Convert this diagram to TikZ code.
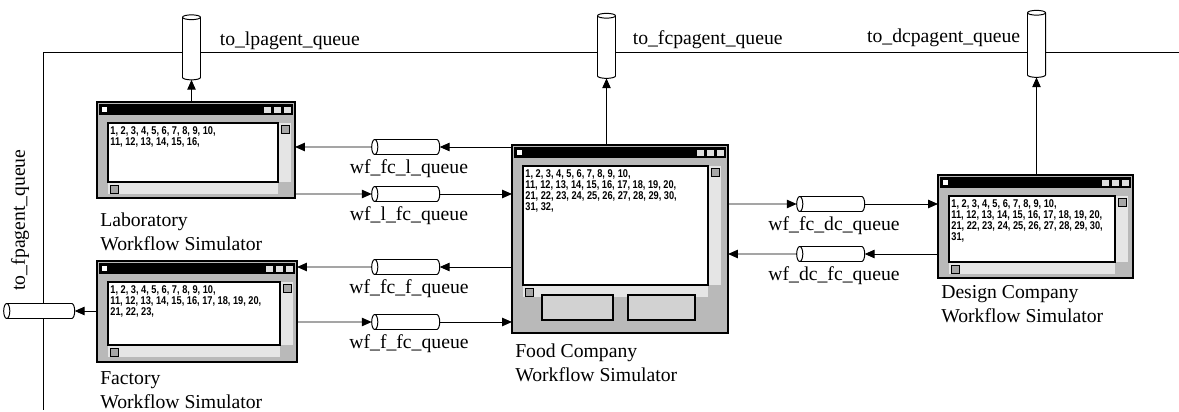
\documentclass[tikz,border=0pt]{standalone}
\usepackage{fontspec}
\setmainfont{Liberation Serif}
\newfontfamily\numfont{Liberation Sans}[FakeStretch=0.82]
\usetikzlibrary{shapes.geometric, arrows.meta, positioning, calc}

% client area of a simulator window: #1 window, #2 right margin, #3 bottom margin, #4 output lines
\newcommand{\simscreen}[4]{%
  \fill ([shift={(2,2)}]#1.north west) rectangle ([shift={(-2,13)}]#1.north east);
  \fill[white] ([shift={(5,5)}]#1.north west) rectangle ++(5,5);
  \foreach \k in {1,2,3}
    \draw[fill=gray!25, line width=0.4pt] ([shift={(-2-\k*10,4)}]#1.north east) rectangle ++(8,7);
  \coordinate (#1tl) at ([shift={(11,21)}]#1.north west);
  \coordinate (#1br) at ([shift={(-#2,-#3)}]#1.south east);
  \fill[gray!20] ([shift={(1,0)}]#1tl -| #1br) rectangle ([shift={(13,0)}]#1br);
  \fill[gray!20] ([shift={(0,1)}]#1tl |- #1br) rectangle ([shift={(0,12)}]#1br);
  \draw[fill=gray!70, line width=0.4pt] ([shift={(3,2)}]#1tl -| #1br) rectangle ++(8,8);
  \draw[fill=gray!70, line width=0.4pt] ([shift={(2,3)}]#1tl |- #1br) rectangle ++(8,8);
  \draw[fill=white, line width=0.8pt] (#1tl) rectangle (#1br);
  \node[numtext] at ([shift={(2,3)}]#1tl) {#4};
}

\begin{document}
\begin{tikzpicture}[x=0.025cm, y=-0.025cm, line width=0.7pt,
    >={Triangle[length=7pt, width=6pt]},
    simwin/.style={draw, line width=1.2pt, fill=gray!55, rectangle, inner sep=0pt, outer sep=0pt},
    queue/.style={draw, fill=white, cylinder, shape border rotate=180, aspect=0.45,
      inner xsep=0pt, inner ysep=0.17cm, outer sep=0pt, minimum width=0.375cm, minimum height=1.7cm},
    vqueue/.style={queue, shape border rotate=90, aspect=0.3, inner xsep=0.2cm, inner ysep=0pt,
      minimum width=0.45cm, minimum height=1.625cm},
    qlabel/.style={font=\fontsize{14}{17}\selectfont, inner sep=2pt},
    winlabel/.style={qlabel, align=left},
    numtext/.style={font=\numfont\bfseries\fontsize{8}{6.6}\selectfont, align=left, anchor=north west, inner sep=0pt}
  ]
  \useasboundingbox (0,0) rectangle (1179,412);

  % --- agent bus ---
  \coordinate (busE) at (1179,52);
  \coordinate (busNW) at (43,52);
  \coordinate (busS) at (43,410);
  \draw (busE) -- (busNW) -- (busS);

  % --- simulator windows ---
  \node[simwin, minimum width=4.95cm, minimum height=2.4cm] (lab) at (196,150) {};
  \node[simwin, minimum width=5cm, minimum height=2.525cm] (fac) at (197,311.5) {};
  \node[simwin, minimum width=5.4cm, minimum height=4.7cm] (food) at (620,239) {};
  \node[simwin, minimum width=4.875cm, minimum height=2.575cm] (dc) at (1035.5,226.5) {};

  \simscreen{lab}{17}{16}{1, 2, 3, 4, 5, 6, 7, 8, 9, 10,\\11, 12, 13, 14, 15, 16,}
  \simscreen{fac}{17}{17}{1, 2, 3, 4, 5, 6, 7, 8, 9, 10,\\11, 12, 13, 14, 15, 16, 17, 18, 19, 20,\\21, 22, 23,}
  \simscreen{food}{20}{48}{1, 2, 3, 4, 5, 6, 7, 8, 9, 10,\\11, 12, 13, 14, 15, 16, 17, 18, 19, 20,\\21, 22, 23, 24, 25, 26, 27, 28, 29, 30,\\31, 32,}
  \simscreen{dc}{18}{16}{1, 2, 3, 4, 5, 6, 7, 8, 9, 10,\\11, 12, 13, 14, 15, 16, 17, 18, 19, 20,\\21, 22, 23, 24, 25, 26, 27, 28, 29, 30,\\31,}

  % buttons of the food company window
  \draw[fill=gray!35, line width=1.2pt] ([shift={(30,-38)}]food.south west) rectangle ++(71,25);
  \draw[fill=gray!35, line width=1.2pt] ([shift={(116,-38)}]food.south west) rectangle ++(67,25);

  \node[winlabel, below=0.3cm of lab.south west, anchor=north west] (lablbl) {Laboratory\\Workflow Simulator};
  \node[winlabel, below=0.15cm of fac.south west, anchor=north west] (faclbl) {Factory\\Workflow Simulator};
  \node[winlabel, below=0.2cm of food.south west, anchor=north west] (foodlbl) {Food Company\\Workflow Simulator};
  \node[winlabel, below=0.1cm of dc.south west, anchor=north west] (dclbl) {Design Company\\Workflow Simulator};

  % --- agent queues ---
  \node[vqueue] (lpq) at (191.5,50) {};
  \node[vqueue] (fcq) at (606.5,48.5) {};
  \node[vqueue, minimum height=1.675cm] (dcq) at (1036.5,46.5) {};
  \node[queue, minimum height=1.775cm] (fpq) at (42.5,311) {};

  \node[qlabel, right=0.4cm of lpq.north east] {to\_lpagent\_queue};
  \node[qlabel, right=0.35cm of fcq.north east] {to\_fcpagent\_queue};
  \node[qlabel, left=0.1cm of dcq.north west] {to\_dcpagent\_queue};
  \node[qlabel, rotate=90] at (20,220) {to\_fpagent\_queue};

  % --- workflow queues ---
  \node[queue] (fclq) at (409,147) {};
  \node[queue] (lfcq) at (409,194) {};
  \node[queue] (fcfq) at (409,267) {};
  \node[queue] (ffcq) at (409,322) {};
  \node[queue] (fcdcq) at (834,204) {};
  \node[queue] (dcfcq) at (834,254) {};

  \node[qlabel, below=1pt of fclq] {wf\_fc\_l\_queue};
  \node[qlabel, below=1pt of lfcq] {wf\_l\_fc\_queue};
  \node[qlabel, below=1pt of fcfq] {wf\_fc\_f\_queue};
  \node[qlabel, below=1pt of ffcq] {wf\_f\_fc\_queue};
  \node[qlabel, below=1pt of fcdcq] {wf\_fc\_dc\_queue};
  \node[qlabel, below=1pt of dcfcq] {wf\_dc\_fc\_queue};

  % --- connections ---
  \draw[->] (lab.north -| lpq) -- (lpq.south);
  \draw[->] (food.north -| fcq) -- (fcq.south);
  \draw[->] (dc.north -| dcq) -- (dcq.south);
  \draw[->] (fac.west |- fpq) -- (fpq.east);

  \draw[->] (food.west |- fclq) -- (fclq.east);
  \draw[->] (fclq.west) -- (lab.east |- fclq);
  \draw[->] (lab.east |- lfcq) -- (lfcq.west);
  \draw[->] (lfcq.east) -- (food.west |- lfcq);
  \draw[->] (food.west |- fcfq) -- (fcfq.east);
  \draw[->] (fcfq.west) -- (fac.east |- fcfq);
  \draw[->] (fac.east |- ffcq) -- (ffcq.west);
  \draw[->] (ffcq.east) -- (food.west |- ffcq);

  \draw[->] (food.east |- fcdcq) -- (fcdcq.west);
  \draw[->] (fcdcq.east) -- (dc.west |- fcdcq);
  \draw[->] (dc.west |- dcfcq) -- (dcfcq.east);
  \draw[->] (dcfcq.west) -- (food.east |- dcfcq);
\end{tikzpicture}
\end{document}
